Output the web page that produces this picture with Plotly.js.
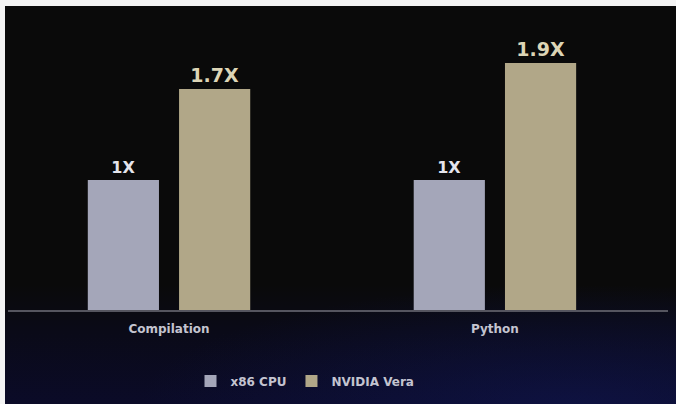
<!DOCTYPE html>
<html>
<head>
<meta charset="utf-8">
<script src="https://cdn.plot.ly/plotly-3.0.1.min.js"></script>
<style>
  html, body { margin: 0; padding: 0; background: #f4f4f4; width: 676px; height: 404px; overflow: hidden; }
  #bg { position: absolute; left: 5px; top: 6px; width: 671px; height: 398px;
        background:
          radial-gradient(ellipse 65% 30% at 85% 100%, rgba(18,26,95,0.45), rgba(18,26,95,0) 100%),
          linear-gradient(to bottom, #0a0a0a 0%, #0a0a0a 70%, #0a0a18 82%, #0b0b28 100%); }
  #chart { position: absolute; left: 0; top: 0; width: 676px; height: 404px; }
</style>
</head>
<body>
<div id="bg"></div>
<div id="chart"></div>
<script>
const categories = ['Compilation', 'Python'];
const seriesNames = ['x86 CPU', 'NVIDIA Vera'];
const x86Values = [1, 1];
const veraValues = [1.7, 1.9];
const x86Labels = ['1X', '1X'];
const veraLabels = ['1.7X', '1.9X'];

const FONT = 'DejaVu Sans, sans-serif';

const traces = [
  {
    type: 'bar', name: seriesNames[0], x: categories, y: x86Values,
    text: x86Labels, textposition: 'outside', cliponaxis: false,
    textfont: { family: FONT, size: 16, color: '#e4e4ec', weight: 'bold' },
    marker: { color: '#a4a6b9' }, hoverinfo: 'skip'
  },
  {
    type: 'bar', name: seriesNames[1], x: categories, y: veraValues,
    text: veraLabels, textposition: 'outside', cliponaxis: false,
    textfont: { family: FONT, size: 19, color: '#ddd5b6', weight: 'bold' },
    marker: { color: '#b1a788' }, hoverinfo: 'skip'
  }
];

const layout = {
  width: 676, height: 404,
  paper_bgcolor: 'rgba(0,0,0,0)', plot_bgcolor: 'rgba(0,0,0,0)',
  margin: { l: 8, r: 8, t: 24, b: 94 },
  barmode: 'group', bargap: 0.44, bargroupgap: 0.22,
  font: { family: FONT, color: '#c4c4ce' },
  xaxis: {
    range: [-0.494, 1.531], showgrid: false, zeroline: false,
    showline: true, linecolor: '#55555f', linewidth: 1.5,
    ticks: '', tickfont: { family: FONT, size: 12, color: '#c4c4d0', weight: 'bold' },
    ticklabelstandoff: 7
  },
  yaxis: { range: [0, 2.2], visible: false, showgrid: false, zeroline: false },
  showlegend: true,
  legend: {
    orientation: 'h', x: 0.45, xanchor: 'center', y: -0.248, yanchor: 'middle',
    font: { family: FONT, size: 12, color: '#c4c4d0', weight: 'bold' },
    bgcolor: 'rgba(0,0,0,0)', itemwidth: 30, tracegroupgap: 0
  }
};

Plotly.newPlot('chart', traces, layout, { displayModeBar: false, staticPlot: true });
</script>
</body>
</html>
